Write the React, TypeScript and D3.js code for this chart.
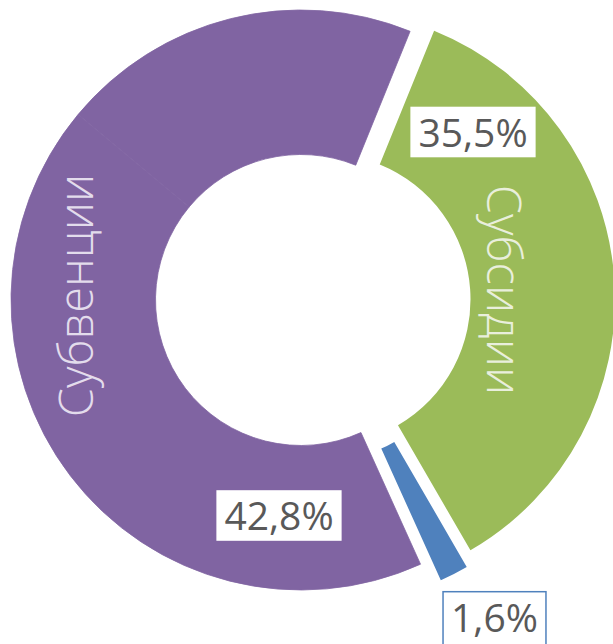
import React, { useEffect, useRef } from 'react';
import * as d3 from 'd3';

// slice data (percent of total), drawn clockwise from the first slice angle
const categories = ['Субсидии', null, 'Субвенции', null];
const values = [35.5, 1.6, 42.8, 20.1];
const showValue = [true, true, true, false];
const colors = ['#9BBB59', '#4F81BD', '#8064A2', '#8064A2'];

const W = 613;
const H = 644;

const App = () => {
  const svgRef = useRef(null);

  useEffect(() => {
    const cx = 301;
    const cy = 300;
    const outerR = 290;
    const innerR = 145.5;
    const firstAngle = (22.1 * Math.PI) / 180;

    // explode offsets per slice (px) and value-label centres relative to pie centre
    const explode = [[24, -0.6], [20.3, 16], [0, 0], [0, 0]];
    const labelPos = [[172, -168], [193.5, 317], [-22, 215.5], null];
    const catPos = [
      { x: 487, y: 290, rot: 90 },
      null,
      { x: 93, y: 295.5, rot: -90 },
      null,
    ];
    const catFill = ['#E9EFDC', null, '#E3DCEC', null];

    const svg = d3.select(svgRef.current);
    svg.selectAll('*').remove();

    const data = values.map((v, i) => ({ i, v }));
    const pie = d3
      .pie()
      .sort(null)
      .value((d) => d.v)
      .startAngle(firstAngle)
      .endAngle(firstAngle + 2 * Math.PI);
    const arc = d3.arc().innerRadius(innerR).outerRadius(outerR);

    const g = svg.append('g').attr('transform', `translate(${cx}, ${cy})`);

    g.selectAll('path.slice')
      .data(pie(data))
      .enter()
      .append('path')
      .attr('class', 'slice')
      .attr('d', arc)
      .attr('fill', (d) => colors[d.data.i])
      // same-colour neighbours: hide the anti-aliased seam
      .attr('stroke', (d) => (d.data.i >= 2 ? colors[d.data.i] : 'none'))
      .attr('stroke-width', 0.8)
      .attr('transform', (d) => `translate(${explode[d.data.i][0]}, ${explode[d.data.i][1]})`);

    // category names, rotated along the ring
    categories.forEach((name, i) => {
      if (!name) return;
      const p = catPos[i];
      g.append('text')
        .attr('transform', `translate(${p.x - cx}, ${p.y - cy}) rotate(${p.rot})`)
        .attr('text-anchor', 'middle')
        .style('font-family', '"Open Sans", sans-serif')
        .style('font-weight', 300)
        .style('font-size', '47px')
        .style('fill', catFill[i])
        .text(name);
    });

    // value labels in boxes
    values.forEach((v, i) => {
      if (!showValue[i]) return;
      const [lx, ly] = labelPos[i];
      const lg = g.append('g').attr('transform', `translate(${lx}, ${ly})`);
      const rect = lg.append('rect');
      const t = lg
        .append('text')
        .attr('text-anchor', 'middle')
        .attr('y', 14.5)
        .style('font-family', '"Open Sans", sans-serif')
        .style('font-size', '39px')
        .style('fill', '#595959')
        .text(v.toFixed(1).replace('.', ',') + '%');
      const w = t.node().getComputedTextLength() + 16;
      const h = i === 1 ? 58 : 50.6;
      rect
        .attr('x', -w / 2)
        .attr('y', -25.3)
        .attr('width', w)
        .attr('height', h)
        .attr('fill', '#fff')
        .attr('stroke', i === 1 ? colors[1] : 'none')
        .attr('stroke-width', 1.5);
    });
  }, []);

  return (
    <svg
      ref={svgRef}
      width={W}
      height={H}
      style={{ position: 'absolute', left: 0, top: 0, background: '#fff' }}
    ></svg>
  );
};

export default App;
